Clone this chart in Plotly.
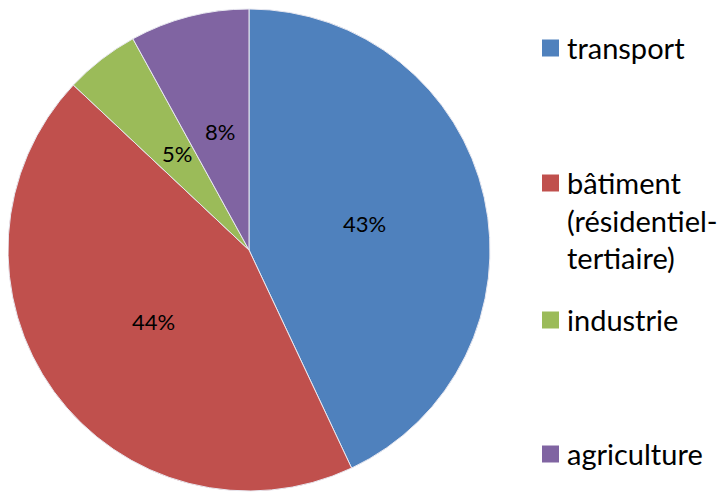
import math
import plotly.graph_objects as go

labels = ["transport", "bâtiment<br>(résidentiel-<br>tertiaire)", "industrie", "agriculture"]
values = [43, 44, 5, 8]
colors = ["#4F81BD", "#C0504D", "#9BBB59", "#8064A2"]
legend_y = [48, 183, 320, 454]  # page pixel centre of each legend marker

W, H = 725, 498
OFF = 8  # browser default body margin
cx, cy, R = 249 - OFF, 250 - OFF, 241  # pie centre/radius in figure pixels

fig = go.Figure(go.Pie(
    labels=labels, values=values, sort=False, direction="clockwise", rotation=0,
    marker=dict(colors=colors, line=dict(color="#E8E8F0", width=1)),
    textinfo="none",
    domain=dict(x=[(cx - R) / W, (cx + R) / W], y=[1 - (cy + R) / H, 1 - (cy - R) / H]),
    showlegend=False, hoverinfo="skip",
))

# percentage labels at half radius on each slice bisector
total = sum(values)
cum = 0
for v in values:
    mid = (cum + v / 2) / total * 2 * math.pi
    cum += v
    px = cx + 118 * math.sin(mid)
    py = cy - 122 * math.cos(mid)
    fig.add_annotation(x=px / W, y=1 - py / H, xref="paper", yref="paper",
                       text=f"{round(v / total * 100)}%", showarrow=False,
                       xanchor="center", yanchor="middle",
                       font=dict(family="Lato", size=22, color="#000000"))

for lab, col, py in zip(labels, colors, legend_y):
    py -= OFF
    fig.add_shape(type="rect", xref="paper", yref="paper",
                  x0=(542 - OFF) / W, x1=(559 - OFF) / W,
                  y0=1 - (py + 8.5) / H, y1=1 - (py - 8.5) / H,
                  fillcolor=col, line=dict(color=col, width=0))
    fig.add_annotation(x=(565 - OFF) / W, y=1 - (py - 20.5) / H, xref="paper", yref="paper",
                       text=lab, showarrow=False, xanchor="left", yanchor="top",
                       align="left", font=dict(family="Lato", size=29, color="#000000"))

fig.update_layout(width=W, height=H, margin=dict(l=0, r=0, t=0, b=0),
                  paper_bgcolor="white", plot_bgcolor="white")
fig.write_html("out.html")
